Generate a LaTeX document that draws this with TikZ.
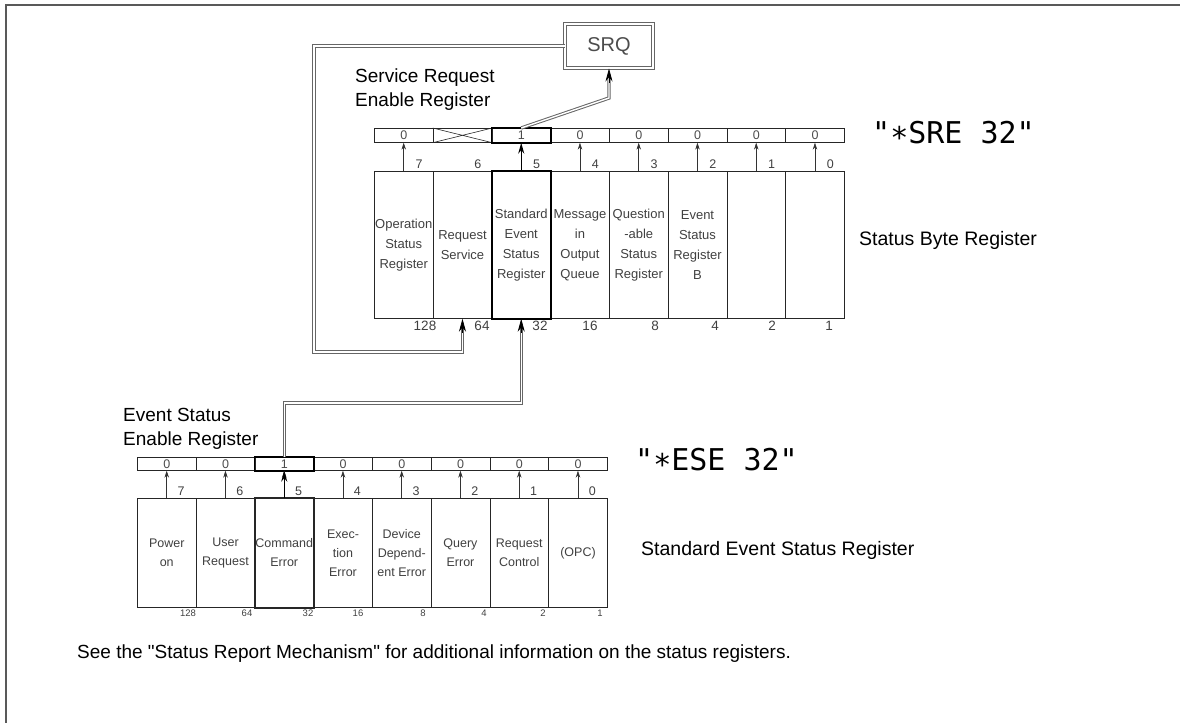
\documentclass[tikz,border=0pt]{standalone}
\usepackage{fontspec}
\setmainfont{Liberation Sans}
\newfontfamily\codefont{DejaVu Sans Mono}
\usetikzlibrary{arrows.meta}

\tikzset{
  cell/.style={draw=black!85,line width=0.7pt,inner sep=0pt,anchor=north west,minimum width=58.75pt},
  bitcell/.style={cell,minimum height=14pt,text=black!70,font=\fontsize{12.5}{12.5}\selectfont},
  regcell/.style={cell,align=center,text=black!75},
  bitnum/.style={text=black!75,inner sep=0pt,font=\fontsize{12.5}{12.5}\selectfont},
  bitarrow/.style={draw=black!80,line width=0.6pt,-{Stealth[length=7pt,width=4.5pt]}},
  setarrow/.style={draw=black,line width=1.3pt,-{Stealth[length=11pt,width=6pt]}},
  busline/.style={draw=black!60,double=white,double distance=1.4pt,line width=1pt},
  bustip/.style={draw=black,line width=0.8pt,-{Stealth[length=13pt,width=7pt]}},
  srqbox/.style={draw=black!60,double=white,double distance=1.2pt,line width=1pt,
    minimum width=88pt,minimum height=44pt,text=black!70,font=\fontsize{20}{20}\selectfont},
  caption/.style={inner sep=0pt,anchor=west,align=left,font=\fontsize{19}{24}\selectfont},
  command/.style={inner sep=0pt,anchor=west,font=\codefont\fontsize{30}{30}\selectfont}
}

\begin{document}
\begin{tikzpicture}[x=1pt,y=-1pt]
  \useasboundingbox (0,0) rectangle (1180,723);
  % frame
  \draw[black!65,line width=2.5pt] (1180,5) -- (6,5) -- (6,723);

  % service request enable register
  \foreach \b/\v [count=\i from 0] in {7/0,6/{},5/1,4/0,3/0,2/0,1/0,0/0}
    \node[bitcell] (sre\b) at ({374+\i*58.75},128) {\v};
  \draw[black!85,line width=0.6pt] (sre6.north west) -- (sre6.south east)
    (sre6.south west) -- (sre6.north east);
  \draw[line width=1.8pt] (sre5.north west) rectangle (sre5.south east);

  % status byte register
  \foreach \b/\txt [count=\i from 0] in {7/{Operation\\Status\\Register},
      6/{Request\\Service},5/{Standard\\Event\\Status\\Register},
      4/{Message\\in\\Output\\Queue},3/{Question\\-able\\Status\\Register},
      2/{Event\\Status\\Register\\B},1/{},0/{}}{
    \node[regcell,minimum height=147pt,font=\fontsize{13}{20}\selectfont]
      (stb\b) at ({374+\i*58.75},171) {\txt};
    \node[bitnum] (stbn\b) at ({374+\i*58.75+45},164) {\b};
  }
  \draw[line width=2pt] (stb5.north west) rectangle (stb5.south east);
  \foreach \b in {7,4,3,2,1,0}
    \draw[bitarrow] (stb\b.north) -- (sre\b.south);
  \draw[setarrow] (stb5.north) -- (sre5.south);
  \foreach \w/\x in {128/425,64/482,32/540,16/590,8/655,4/715,2/772,1/829}
    \node[bitnum,font=\fontsize{13.5}{13.5}\selectfont] (stbw\w) at (\x,326) {\w};

  % SRQ and the request service loop
  \node[srqbox] (srq) at (609,46) {SRQ};
  \coordinate (srqbend) at (609,98);
  \draw[busline] (sre5.north) -- (srqbend) -- ([yshift=-7pt]srq.south);
  \draw[bustip] ([yshift=-14pt]srq.south) -- (srq.south);
  \coordinate (loopa) at (314,46);
  \coordinate (loopb) at (314,352);
  \coordinate (loopc) at (stb6.south |- loopb);
  \draw[busline] (srq.west) -- (loopa) -- (loopb) -- (loopc) -- ([yshift=-7pt]stb6.south);
  \draw[bustip] ([yshift=-14pt]stb6.south) -- (stb6.south);

  \node[caption] (srecap) at (355,89.5) {Service Request\\Enable Register};
  \node[command] (srecmd) at (872,135) {"\raisebox{-0.3ex}{*}SRE 32"};
  \node[caption,font=\fontsize{19.5}{24}\selectfont] (stbcap) at (859,240) {Status Byte Register};

  % event status enable register
  \foreach \b/\v [count=\i from 0] in {7/0,6/0,5/1,4/0,3/0,2/0,1/0,0/0}
    \node[bitcell,minimum height=13pt] (ese\b) at ({137+\i*58.75},457) {\v};
  \draw[line width=1.8pt] (ese5.north west) rectangle (ese5.south east);

  % standard event status register
  \foreach \b/\txt [count=\i from 0] in {7/{Power\\on},6/{User\\Request},
      5/{Command\\Error},4/{Exec-\\tion\\Error},3/{Device\\Depend-\\ent Error},
      2/{Query\\Error},1/{Request\\Control},0/{(OPC)}}{
    \node[regcell,minimum height=109pt,font=\fontsize{12.5}{19}\selectfont]
      (esr\b) at ({137+\i*58.75},498) {\txt};
    \node[bitnum] (esrn\b) at ({137+\i*58.75+44},491) {\b};
    \draw[bitarrow] (esr\b.north) -- (ese\b.south);
  }
  \draw[black!85,line width=2pt] (esr5.north west) rectangle (esr5.south east);
  \draw[setarrow] (esr5.north) -- (ese5.south);
  \foreach \w/\x in {128/188,64/247,32/308,16/358,8/423,4/484,2/543,1/600}
    \node[bitnum,font=\fontsize{9.5}{9.5}\selectfont] (esrw\w) at (\x,613) {\w};

  % summary bit into the status byte
  \coordinate (esebend) at (ese5.north |- 0,403);
  \draw[busline] (ese5.north) -- (esebend) -- (stb5.south |- esebend)
    -- ([yshift=-7pt]stb5.south);
  \draw[bustip] ([yshift=-14pt]stb5.south) -- (stb5.south);

  \node[caption] (esecap) at (123,428.5) {Event Status\\Enable Register};
  \node[command] (esecmd) at (635,462) {"\raisebox{-0.3ex}{*}ESE 32"};
  \node[caption,font=\fontsize{19.5}{24}\selectfont] (esrcap) at (641,550) {Standard Event Status Register};

  \node[caption] (note) at (77,654)
    {See the \textquotedbl Status Report Mechanism\textquotedbl{} for additional information on the status registers.};
\end{tikzpicture}
\end{document}
